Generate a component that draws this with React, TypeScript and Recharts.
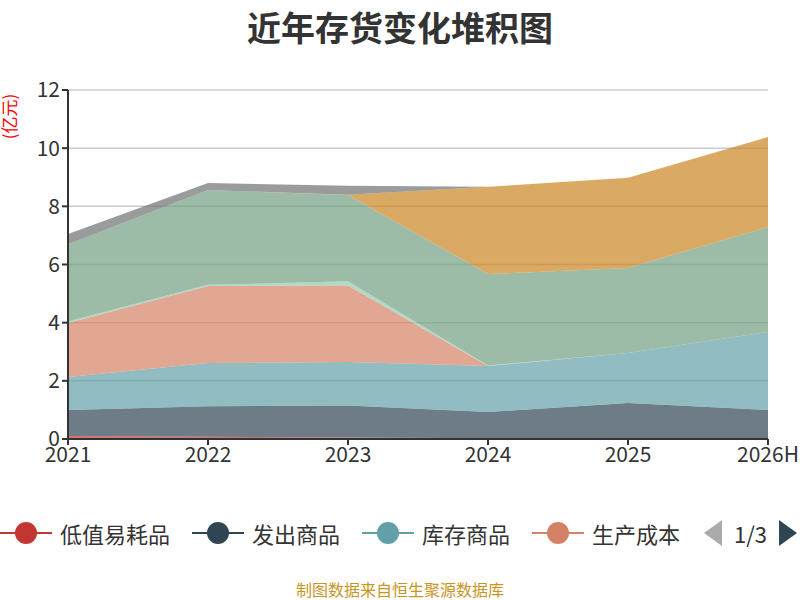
import React from "react";
import { AreaChart, Area, XAxis, YAxis, CartesianGrid } from "recharts";

const years = ["2021", "2022", "2023", "2024", "2025", "2026H"];
const diZhi = [0.1, 0.08, 0.05, 0.03, 0.03, 0.03];
const faChu = [0.9, 1.05, 1.1, 0.9, 1.21, 0.97];
const kuCun = [1.13, 1.48, 1.5, 1.58, 1.72, 2.68];
const shengChan = [1.86, 2.65, 2.63, 0, 0, 0];
const zaiChan = [0.05, 0.04, 0.14, 0.02, 0, 0];
const yuanCai = [2.66, 3.26, 2.97, 3.14, 2.92, 3.61];
const heTong = [0, 0, 0.01, 3.0, 3.1, 3.09];
const qiTa = [0.35, 0.24, 0.31, 0, 0, 0];
const yTicks = [0, 2, 4, 6, 8, 10, 12];

const series = [
  { key: "低值易耗品", vals: diZhi, color: "#c23531" },
  { key: "发出商品", vals: faChu, color: "#2f4554" },
  { key: "库存商品", vals: kuCun, color: "#61a0a8" },
  { key: "生产成本", vals: shengChan, color: "#d48265" },
  { key: "在产品", vals: zaiChan, color: "#91c7ae" },
  { key: "原材料", vals: yuanCai, color: "#749f83" },
  { key: "合同履约成本", vals: heTong, color: "#ca8622" },
  { key: "委托加工物资", vals: qiTa, color: "#6e7074" },
];

const data = years.map((y, i) => {
  const row: any = { year: y };
  series.forEach((s) => (row[s.key] = s.vals[i]));
  return row;
});

const font = "'Noto Sans CJK SC', 'Noto Sans', sans-serif";

export default function App() {
  return (
    <div style={{ position: "absolute", left: 0, top: 0, width: 800, height: 600, fontFamily: font, overflow: "hidden", background: "#fff" }}>
      <div style={{ position: "absolute", top: 2, width: 800, textAlign: "center", fontSize: 34, fontWeight: "bold", color: "#333" }}>近年存货变化堆积图</div>
      <div style={{ position: "absolute", left: -22, top: 104, transform: "rotate(-90deg)", color: "red", fontSize: 17, width: 60, textAlign: "center", whiteSpace: "nowrap" }}>(亿元)</div>
      <AreaChart width={800} height={600} data={data} margin={{ top: 90, right: 32, left: 8, bottom: 131 }}>
        <CartesianGrid vertical={false} stroke="#ccc" strokeWidth={1.5} />
        <XAxis dataKey="year" tick={{ fontSize: 21, fill: "#333" }} stroke="#333" strokeWidth={2} tickSize={6} height={30} />
        <YAxis domain={[0, 12]} ticks={yTicks} tick={{ fontSize: 21, fill: "#333" }} stroke="#333" strokeWidth={2} tickSize={6} width={60} interval={0} />
        {series.map((s) => (
          <Area key={s.key} dataKey={s.key} stackId="a" type="linear" stroke="none" fill={s.color} fillOpacity={0.7} isAnimationActive={false} />
        ))}
      </AreaChart>
      <div style={{ position: "absolute", top: 518, left: 0, height: 30, display: "flex", alignItems: "center", fontSize: 22, color: "#333", width: 700, overflow: "hidden", whiteSpace: "nowrap" }}>
        {series.slice(0, 4).map((s) => (
          <div key={s.key} style={{ display: "flex", alignItems: "center", marginRight: 22 }}>
            <div style={{ position: "relative", width: 52, height: 24, marginRight: 8 }}>
              <div style={{ position: "absolute", top: 11, left: 0, width: 52, height: 2, background: s.color }} />
              <div style={{ position: "absolute", top: 1, left: 15, width: 22, height: 22, borderRadius: 11, background: s.color }} />
            </div>
            <span>{s.key}</span>
          </div>
        ))}
      </div>
      <div style={{ position: "absolute", top: 518, left: 684, width: 116, height: 30, background: "#fff", display: "flex", alignItems: "center", fontSize: 22, color: "#333" }}>
        <div style={{ width: 0, height: 0, borderTop: "13px solid transparent", borderBottom: "13px solid transparent", borderRight: "18px solid #aaa", marginLeft: 20, marginRight: 12 }} />
        <span>1/3</span>
        <div style={{ width: 0, height: 0, borderTop: "13px solid transparent", borderBottom: "13px solid transparent", borderLeft: "18px solid #2f4554", marginLeft: 12 }} />
      </div>
      <div style={{ position: "absolute", top: 577, width: 800, textAlign: "center", fontSize: 16, color: "#c8951e" }}>制图数据来自恒生聚源数据库</div>
    </div>
  );
}
